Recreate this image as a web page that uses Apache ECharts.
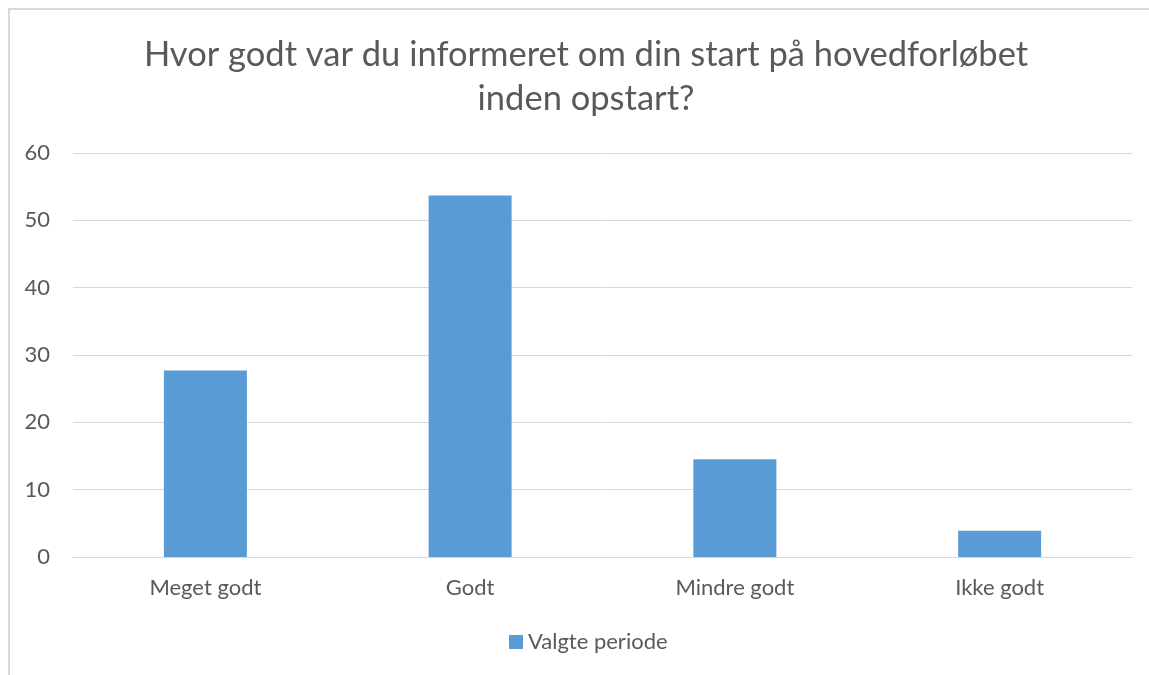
<!DOCTYPE html>
<html>
<head>
<meta charset="utf-8">
<script src="https://cdn.jsdelivr.net/npm/echarts@6/dist/echarts.min.js"></script>
<style>
  html, body { margin: 0; padding: 0; background: #fff; }
  #frame { position: absolute; left: 8px; top: 8px; width: 1160px; height: 690px; border-left: 2px solid #d9d9d9; border-top: 2px solid #d9d9d9; }
  #main { position: absolute; left: 0; top: 0; width: 1149px; height: 675px; }
</style>
</head>
<body>
<div id="frame"></div>
<div id="main"></div>
<script>
const titleText = 'Hvor godt var du informeret om din start på hovedforløbet\ninden opstart?';
const categories = ['Meget godt', 'Godt', 'Mindre godt', 'Ikke godt'];
const seriesName = 'Valgte periode';
const values = [27.7, 53.7, 14.5, 3.9];

const font = 'Lato, "Open Sans", sans-serif';
const textColor = '#595959';

const chart = echarts.init(document.getElementById('main'));
chart.setOption({
    animation: false,
    textStyle: { fontFamily: font },
    title: {
        text: titleText,
        left: 581,
        textAlign: 'center',
        top: 28,
        textStyle: { fontFamily: font, fontSize: 34.5, fontWeight: 'normal', color: textColor, lineHeight: 44 }
    },
    legend: {
        top: 626,
        left: 504,
        itemWidth: 14,
        itemHeight: 14,
        itemGap: 10,
        icon: 'rect',
        textStyle: { fontFamily: font, fontSize: 22, color: textColor, padding: [0, 0, 0, 0] },
        data: [seriesName]
    },
    grid: { left: 73, right: 17, top: 153, bottom: 118, containLabel: false },
    xAxis: {
        type: 'category',
        data: categories,
        axisLine: { lineStyle: { color: '#d9d9d9', width: 1 } },
        axisTick: { show: false },
        axisLabel: { color: textColor, fontSize: 22, fontFamily: font, margin: 20 }
    },
    yAxis: {
        type: 'value',
        min: 0,
        max: 60,
        interval: 10,
        axisLine: { show: false },
        axisTick: { show: false },
        splitLine: { lineStyle: { color: '#d9d9d9', width: 1 } },
        axisLabel: { color: textColor, fontSize: 22, fontFamily: font, margin: 23 }
    },
    series: [{
        name: seriesName,
        type: 'bar',
        data: values,
        barWidth: 83,
        itemStyle: { color: '#5b9bd5' }
    }]
});
</script>
</body>
</html>
